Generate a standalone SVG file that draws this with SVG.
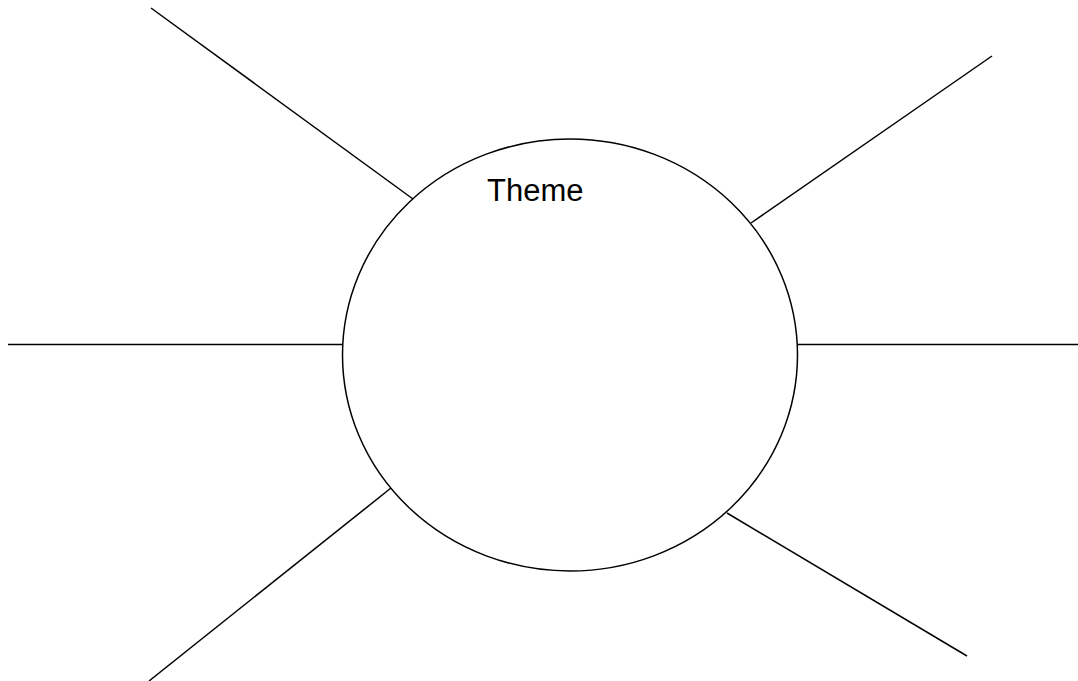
<svg xmlns="http://www.w3.org/2000/svg" width="1078" height="681" viewBox="0 0 1078 681">
<style>
.ln{stroke:#000;stroke-width:1.5;fill:none}
.lbl{font-family:"Liberation Sans",Arial,sans-serif;font-size:31px;fill:#000}
</style>
<rect width="1078" height="681" fill="#fff"/>
<g id="connectors">
<line class="ln" x1="151" y1="8" x2="413" y2="199"/>
<line class="ln" x1="992" y1="56" x2="751" y2="223"/>
<line class="ln" x1="8" y1="344.5" x2="343" y2="344.5"/>
<line class="ln" x1="797" y1="344.5" x2="1078" y2="344.5"/>
<line class="ln" x1="149" y1="681" x2="391" y2="488"/>
<line class="ln" x1="727" y1="513" x2="967" y2="656"/>
</g>
<g id="theme">
<ellipse class="ln" cx="570" cy="355" rx="227.5" ry="216"/>
<text class="lbl" x="487" y="201">Theme</text>
</g>
</svg>
